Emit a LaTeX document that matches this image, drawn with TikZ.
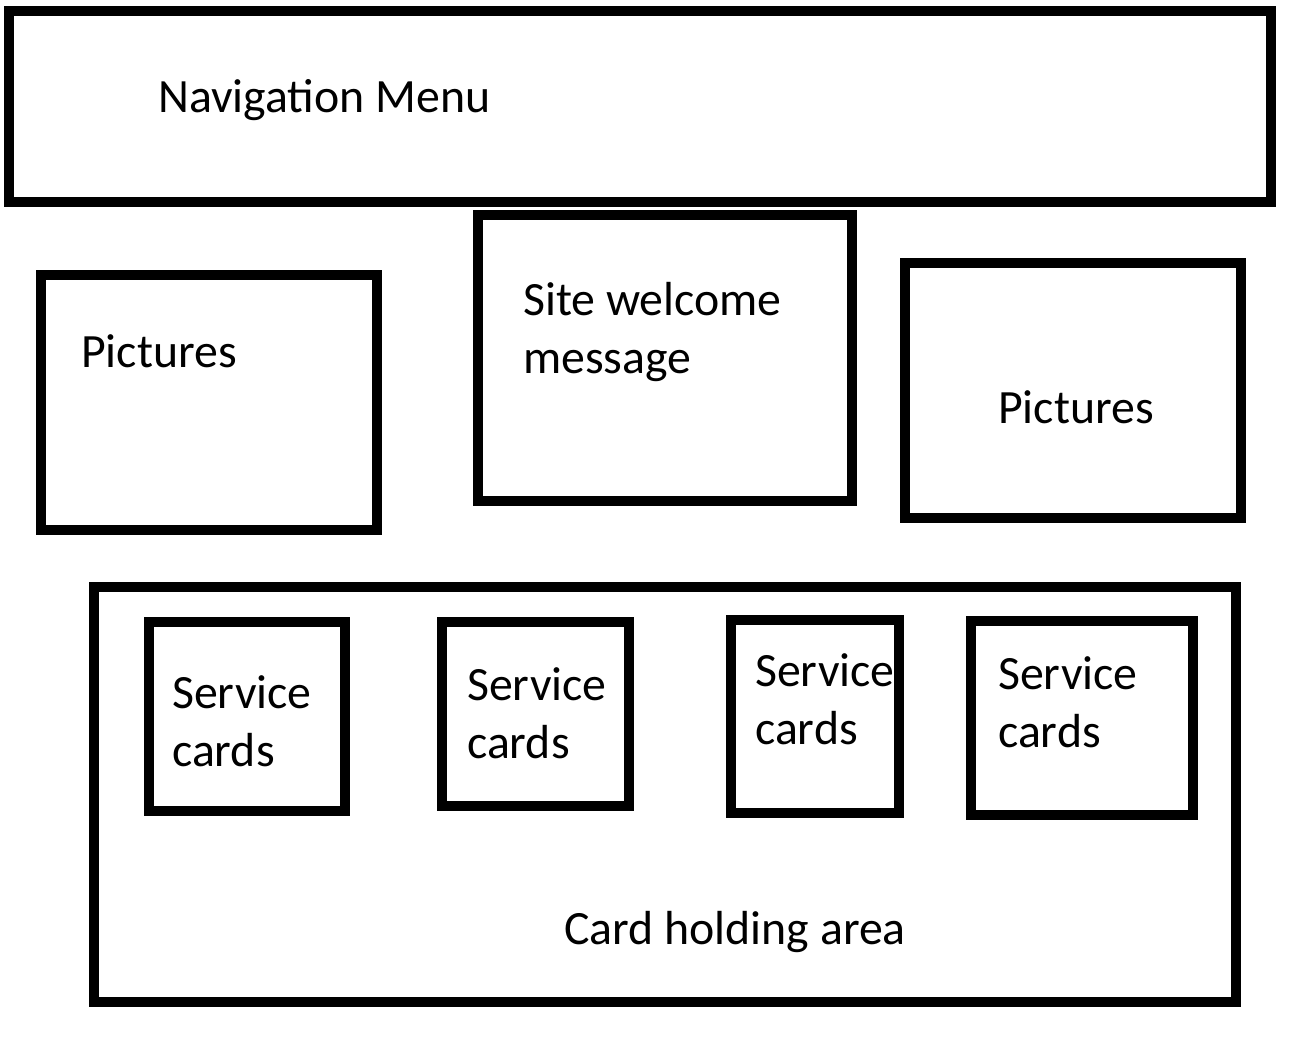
\documentclass[tikz,border=0pt]{standalone}
\usepackage{fontspec}
\setmainfont{Carlito}
\begin{document}
\begin{tikzpicture}[x=1pt,y=-1pt,
  box/.style={draw=black,line width=10pt,line join=miter},
  lbl/.style={anchor=base west,inner sep=0pt,align=left,font=\fontsize{47.8}{58}\selectfont}]
\useasboundingbox[fill=white] (0,0) rectangle (1294,1044);
% boxes
\draw[box] (9,11) rectangle (1271,202);
\draw[box] (41,275) rectangle (377,530);
\draw[box] (478,215) rectangle (852,501);
\draw[box] (905,263) rectangle (1241,518);
\draw[box] (94,587) rectangle (1236,1002);
\draw[box] (149,622) rectangle (345,811);
\draw[box] (442,622) rectangle (629,806);
\draw[box] (731,620) rectangle (899,813);
\draw[box] (971,621) rectangle (1193,815);
% labels (base = baseline of the last line)
\node[lbl] (navt) at (158,112) {Navigation Menu};
\node[lbl] (picl) at (81,367) {Pictures};
\node[lbl] (site) at (523,373) {Site welcome\\message};
\node[lbl] (picr) at (998,423) {Pictures};
\node[lbl] (area) at (564,944) {Card holding area};
\node[lbl] (sc1) at (172,766) {Service\\cards};
\node[lbl] (sc2) at (467,758) {Service\\cards};
\node[lbl] (sc3) at (755,744) {Service\\cards};
\node[lbl] (sc4) at (998,747) {Service\\cards};
\end{tikzpicture}
\end{document}
